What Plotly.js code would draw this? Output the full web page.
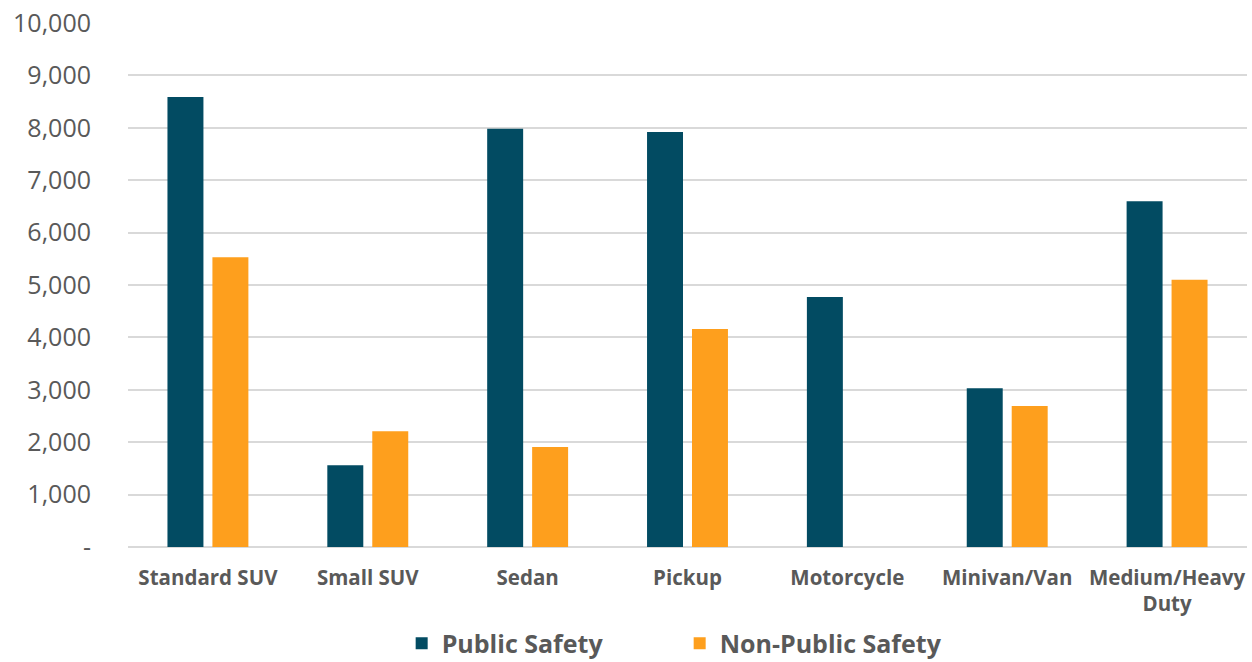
<!DOCTYPE html>
<html>
<head>
<meta charset="utf-8">
<script src="https://cdn.plot.ly/plotly-3.0.1.min.js"></script>
<style>html,body{margin:0;padding:0;background:#fff;}#chart{width:1252px;height:662px;}</style>
</head>
<body>
<div id="chart"></div>
<script>
const categories = ["Standard SUV", "Small SUV", "Sedan", "Pickup", "Motorcycle", "Minivan/Van", "Medium/Heavy<br>Duty"];
const publicSafety = [8590, 1560, 7980, 7920, 4770, 3030, 6600];
const nonPublicSafety = [5530, 2210, 1910, 4160, 0, 2690, 5100];
const yTickVals = [0, 1000, 2000, 3000, 4000, 5000, 6000, 7000, 8000, 9000, 10000];
const yTickText = ["-", "1,000", "2,000", "3,000", "4,000", "5,000", "6,000", "7,000", "8,000", "9,000", "10,000"];

const data = [
  {type: "bar", name: "Public Safety", x: categories, y: publicSafety, marker: {color: "#024b62"}},
  {type: "bar", name: "Non-Public Safety", x: categories, y: nonPublicSafety, marker: {color: "#fe9f1d"}}
];
const layout = {
  width: 1252, height: 662,
  margin: {l: 128, r: 5, t: 23, b: 115},
  paper_bgcolor: "#fff", plot_bgcolor: "#fff",
  font: {family: "Open Sans, sans-serif", color: "#595959"},
  barmode: "group", bargap: 0.4375, bargroupgap: 0.2,
  showlegend: true,
  legend: {orientation: "h", xref: "paper", x: 0.493, xanchor: "center", yref: "container", y: 0.028, yanchor: "middle",
           font: {size: 25, weight: "bold", color: "#595959"}, itemwidth: 30, entrywidth: 233},
  xaxis: {tickfont: {size: 20.5, weight: "bold", color: "#595959"}, ticks: "", showgrid: false,
          showline: false, zeroline: false, ticklabelstandoff: 16, automargin: false},
  yaxis: {range: [0, 10000], tickvals: yTickVals, ticktext: yTickText, tickfont: {size: 25, color: "#595959"},
          showgrid: true, gridcolor: "#d9d9d9", gridwidth: 2, zeroline: true, zerolinecolor: "#d9d9d9", zerolinewidth: 2,
          showline: false, ticks: "", ticklabelstandoff: 36, automargin: false}
};
Plotly.newPlot("chart", data, layout, {displayModeBar: false, staticPlot: true});
</script>
</body>
</html>
